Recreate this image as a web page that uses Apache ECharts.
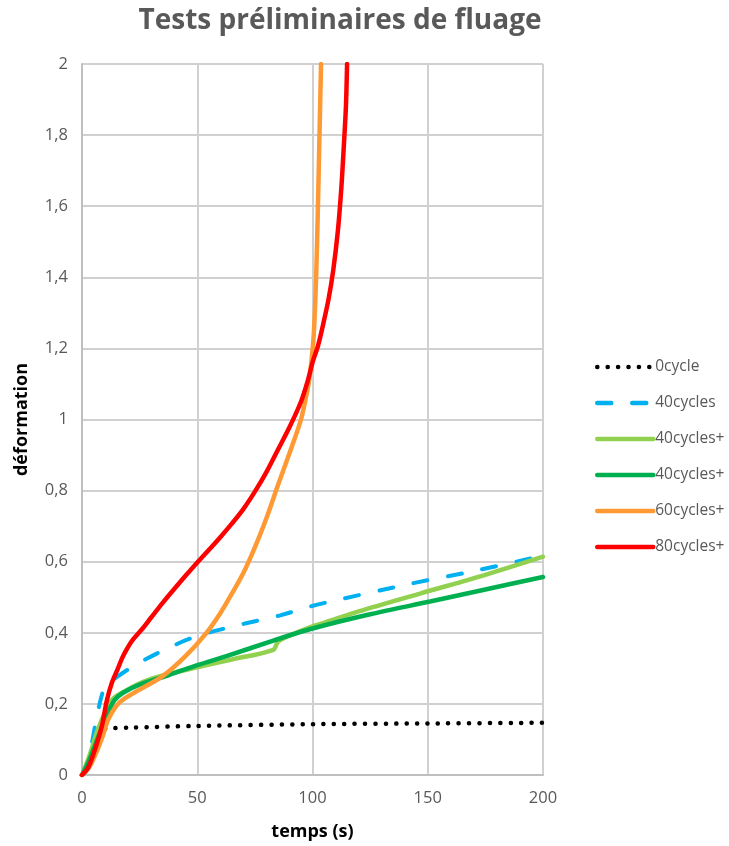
<!DOCTYPE html>
<html>
<head>
<meta charset="utf-8">
<script src="https://cdn.jsdelivr.net/npm/echarts@6/dist/echarts.min.js"></script>
<style>html,body{margin:0;padding:0;background:#fff}#c{width:729px;height:846px}</style>
</head>
<body>
<div id="c"></div>
<script>
const seriesNames = ['0cycle', '40cycles', '40cycles+', '40cycles+', '60cycles+', '80cycles+'];
const xTicks = [0, 50, 100, 150, 200];
const yTicks = [0, 0.2, 0.4, 0.6, 0.8, 1, 1.2, 1.4, 1.6, 1.8, 2];

const s0cycle = [[0,0],[2,0.025],[4,0.05],[6,0.08],[8,0.11],[9,0.125],[10,0.13],[20,0.133],[50,0.138],[100,0.143],[150,0.145],[200,0.147]];
const s40cycles = [[0,0],[2,0.03],[4,0.08],[6,0.15],[8,0.21],[9.5,0.24],[12,0.26],[20,0.297],[26,0.32],[40,0.365],[51,0.393],[70,0.425],[86,0.449],[99,0.474],[112,0.494],[141,0.536],[171,0.575],[200,0.617]];
const s40cyclesPlusA = [[0,0],[3,0.05],[7,0.13],[11,0.19],[13.5,0.215],[19,0.237],[26.5,0.262],[35,0.28],[48,0.30],[65,0.325],[83,0.352],[85,0.375],[90,0.392],[100,0.418],[105,0.428],[120,0.46],[147,0.511],[175,0.563],[200,0.614]];
const s40cyclesPlusB = [[0,0],[3,0.04],[6,0.09],[9,0.14],[11,0.17],[14,0.21],[18,0.232],[25,0.254],[38,0.282],[50,0.309],[63,0.335],[83,0.378],[100,0.412],[125,0.452],[151,0.488],[175,0.522],[200,0.557]];
const s60cyclesPlus = [[0,0],[3,0.02],[6,0.06],[9,0.11],[11.3,0.155],[15,0.195],[18.7,0.216],[25,0.24],[35,0.278],[45,0.335],[54,0.40],[60,0.455],[65,0.51],[70,0.568],[75,0.64],[80,0.722],[85,0.815],[90,0.905],[95,1.0],[98,1.09],[99,1.133],[100.4,1.226],[101.2,1.33],[102,1.5],[103,1.79],[103.7,2.0]];
const s80cyclesPlus = [[0,0],[2.6,0.02],[5,0.06],[7,0.10],[8.7,0.14],[10.8,0.21],[13,0.26],[15.6,0.30],[17.5,0.33],[19.5,0.355],[22,0.38],[26,0.41],[30,0.443],[35,0.484],[40,0.523],[45,0.561],[50,0.598],[55,0.633],[60,0.669],[65,0.707],[70,0.748],[75,0.797],[80,0.852],[85,0.915],[90,0.978],[95,1.05],[98,1.11],[100,1.16],[102.5,1.21],[104.7,1.27],[107,1.34],[109,1.42],[111,1.53],[112.5,1.65],[113.6,1.77],[114.5,1.88],[115,2.0]];

const dataSets = [s0cycle, s40cycles, s40cyclesPlusA, s40cyclesPlusB, s60cyclesPlus, s80cyclesPlus];
const colors = ['#000000', '#00B0F0', '#92D050', '#00B050', '#FF9933', '#FF0000'];
const lineStyles = [
  {width: 4.5, type: [0.1, 10.3], cap: 'round'},
  {width: 4, type: [14, 21], cap: 'round'},
  {width: 4.5, type: 'solid', cap: 'round'},
  {width: 4.5, type: 'solid', cap: 'round'},
  {width: 4.5, type: 'solid', cap: 'round'},
  {width: 4.5, type: 'solid', cap: 'round'}
];

const chart = echarts.init(document.getElementById('c'), null, {renderer: 'canvas'});
const FONT = '"Open Sans", "Liberation Sans", sans-serif';
chart.setOption({
  animation: false,
  backgroundColor: '#fff',
  title: {
    text: 'Tests préliminaires de fluage',
    left: 335, top: 2, textAlign: 'center',
    textStyle: {fontFamily: FONT, fontSize: 28, fontWeight: 'bold', color: '#595959'}
  },
  legend: {
    orient: 'vertical', left: 590, top: 354,
    itemWidth: 56, itemHeight: 14, itemGap: 20,
    itemStyle: {opacity: 0, borderWidth: 0},
    lineStyle: {width: 4.5, cap: 'round'},
    textStyle: {fontFamily: FONT, fontSize: 15.5, lineHeight: 14, color: '#595959', padding: [0,0,0,-3]},
    data: seriesNames.map((n, i) => ({name: n + (i === 3 ? ' ' : '')}))
  },
  grid: {left: 82, right: 186, top: 64, bottom: 69, containLabel: false},
  xAxis: {
    type: 'value', min: xTicks[0], max: xTicks[xTicks.length-1], interval: 50,
    name: 'temps (s)', nameLocation: 'middle', nameGap: 48,
    nameTextStyle: {fontFamily: FONT, fontSize: 18, fontWeight: 'bold', color: '#000'},
    axisLine: {show: true, onZero: false, lineStyle: {color: '#BFBFBF', width: 2}},
    axisTick: {show: false},
    axisLabel: {fontFamily: FONT, fontSize: 16.5, color: '#595959', margin: 15},
    splitLine: {show: true, lineStyle: {color: '#D0D0D0', width: 2}}
  },
  yAxis: {
    type: 'value', min: yTicks[0], max: yTicks[yTicks.length-1], interval: 0.2,
    name: 'déformation', nameLocation: 'middle', nameGap: 51, nameRotate: 90,
    nameTextStyle: {fontFamily: FONT, fontSize: 18, fontWeight: 'bold', color: '#000'},
    axisLine: {show: true, lineStyle: {color: '#BFBFBF', width: 2}},
    axisTick: {show: false},
    axisLabel: {fontFamily: FONT, fontSize: 16.5, color: '#595959', margin: 14,
      formatter: v => String(Math.round(v*10)/10).replace('.', ',')},
    splitLine: {show: true, lineStyle: {color: '#D0D0D0', width: 2}}
  },
  series: dataSets.map((d, i) => ({
    name: seriesNames[i] + (i === 3 ? ' ' : ''),
    type: 'line', data: d, symbol: 'none', smooth: 0.3, clip: true,
    color: colors[i],
    lineStyle: Object.assign({color: colors[i]}, lineStyles[i])
  }))
});
</script>
</body>
</html>
